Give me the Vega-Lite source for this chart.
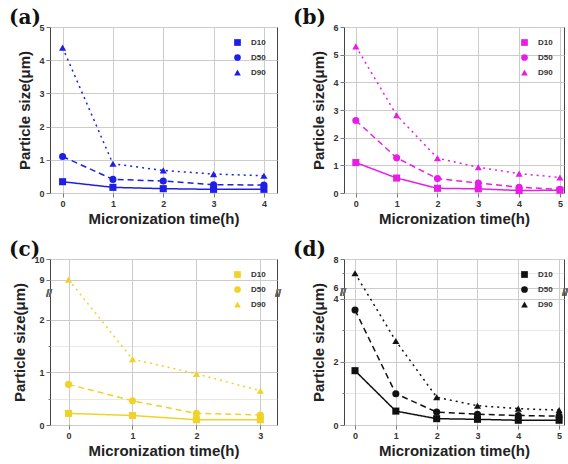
{
  "$schema": "https://vega.github.io/schema/vega-lite/v6.json",
  "padding": {"left": 8, "top": 7, "right": 0, "bottom": 0},
  "background": "white",
  "datasets": {
    "a": [
      {"time": 0, "series": "D10", "size": 0.34}, {"time": 1, "series": "D10", "size": 0.17}, {"time": 2, "series": "D10", "size": 0.13}, {"time": 3, "series": "D10", "size": 0.11}, {"time": 4, "series": "D10", "size": 0.11},
      {"time": 0, "series": "D50", "size": 1.1}, {"time": 1, "series": "D50", "size": 0.41}, {"time": 2, "series": "D50", "size": 0.36}, {"time": 3, "series": "D50", "size": 0.25}, {"time": 4, "series": "D50", "size": 0.24},
      {"time": 0, "series": "D90", "size": 4.38}, {"time": 1, "series": "D90", "size": 0.88}, {"time": 2, "series": "D90", "size": 0.68}, {"time": 3, "series": "D90", "size": 0.57}, {"time": 4, "series": "D90", "size": 0.52}
    ],
    "b": [
      {"time": 0, "series": "D10", "size": 1.1}, {"time": 1, "series": "D10", "size": 0.54}, {"time": 2, "series": "D10", "size": 0.17}, {"time": 3, "series": "D10", "size": 0.15}, {"time": 4, "series": "D10", "size": 0.09}, {"time": 5, "series": "D10", "size": 0.1},
      {"time": 0, "series": "D50", "size": 2.62}, {"time": 1, "series": "D50", "size": 1.27}, {"time": 2, "series": "D50", "size": 0.52}, {"time": 3, "series": "D50", "size": 0.36}, {"time": 4, "series": "D50", "size": 0.21}, {"time": 5, "series": "D50", "size": 0.13},
      {"time": 0, "series": "D90", "size": 5.3}, {"time": 1, "series": "D90", "size": 2.81}, {"time": 2, "series": "D90", "size": 1.26}, {"time": 3, "series": "D90", "size": 0.93}, {"time": 4, "series": "D90", "size": 0.7}, {"time": 5, "series": "D90", "size": 0.56}
    ],
    "c": [
      {"time": 0, "series": "D10", "size": 0.22}, {"time": 1, "series": "D10", "size": 0.18}, {"time": 2, "series": "D10", "size": 0.1}, {"time": 3, "series": "D10", "size": 0.1},
      {"time": 0, "series": "D50", "size": 0.77}, {"time": 1, "series": "D50", "size": 0.46}, {"time": 2, "series": "D50", "size": 0.22}, {"time": 3, "series": "D50", "size": 0.19},
      {"time": 0, "series": "D90", "size": 9.0}, {"time": 1, "series": "D90", "size": 1.25}, {"time": 2, "series": "D90", "size": 0.97}, {"time": 3, "series": "D90", "size": 0.65}
    ],
    "d": [
      {"time": 0, "series": "D10", "size": 1.72}, {"time": 1, "series": "D10", "size": 0.44}, {"time": 2, "series": "D10", "size": 0.2}, {"time": 3, "series": "D10", "size": 0.18}, {"time": 4, "series": "D10", "size": 0.15}, {"time": 5, "series": "D10", "size": 0.15},
      {"time": 0, "series": "D50", "size": 3.64}, {"time": 1, "series": "D50", "size": 0.99}, {"time": 2, "series": "D50", "size": 0.41}, {"time": 3, "series": "D50", "size": 0.34}, {"time": 4, "series": "D50", "size": 0.3}, {"time": 5, "series": "D50", "size": 0.28},
      {"time": 0, "series": "D90", "size": 7.0}, {"time": 1, "series": "D90", "size": 2.66}, {"time": 2, "series": "D90", "size": 0.88}, {"time": 3, "series": "D90", "size": 0.61}, {"time": 4, "series": "D90", "size": 0.52}, {"time": 5, "series": "D90", "size": 0.47}
    ]
  },
  "columns": 2,
  "spacing": {"column": 67, "row": 66},
  "bounds": "flush",
  "resolve": {"scale": {"shape": "independent", "strokeDash": "independent"}, "legend": {"shape": "independent", "strokeDash": "independent"}},
  "concat": [
    {
      "width": 227, "height": 166,
      "title": {"text": "(a)", "dx": -41},
      "data": {"name": "a"},
      "encoding": {
        "x": {"field": "time", "type": "quantitative", "title": "Micronization time(h)",
          "scale": {"domain": [-0.25, 4.26], "nice": false, "zero": false},
          "axis": {"values": [0, 0.5, 1, 1.5, 2, 2.5, 3, 3.5, 4], "format": "d", "labelExpr": "datum.value % 1 === 0 ? datum.label : ''",
            "gridOpacity": {"condition": {"test": "datum.value % 1 === 0", "value": 1}, "value": 0.45},
            "tickSize": {"condition": {"test": "datum.value % 1 === 0", "value": 4}, "value": 2}}},
        "y": {"field": "size", "type": "quantitative", "title": "Particle size(μm)",
          "scale": {"domain": [0, 5], "nice": false, "zero": false},
          "axis": {"values": [0, 0.5, 1, 1.5, 2, 2.5, 3, 3.5, 4, 4.5, 5], "format": "d", "labelExpr": "datum.value % 1 === 0 ? datum.label : ''",
            "gridOpacity": {"condition": {"test": "datum.value % 1 === 0", "value": 1}, "value": 0.45},
            "tickSize": {"condition": {"test": "datum.value % 1 === 0", "value": 4}, "value": 2}}}
      },
      "layer": [
        {"mark": {"type": "line", "color": "#1e1ee6", "strokeWidth": 1.5},
         "encoding": {"strokeDash": {"field": "series", "type": "nominal", "scale": {"range": [[1, 0], [6, 4], [2, 4]]}, "legend": null}}},
        {"mark": {"type": "point", "filled": true, "size": 50, "opacity": 1, "color": "#1e1ee6"},
         "encoding": {"shape": {"field": "series", "type": "nominal", "scale": {"domain": ["D10", "D50", "D90"], "range": ["square", "circle", "triangle-up"]},
           "legend": {"title": null, "symbolSize": 45}}}}
      ]
    },
    {
      "width": 220, "height": 166,
      "title": {"text": "(b)", "dx": -51},
      "data": {"name": "b"},
      "encoding": {
        "x": {"field": "time", "type": "quantitative", "title": "Micronization time(h)",
          "scale": {"domain": [-0.29, 5.1], "nice": false, "zero": false},
          "axis": {"values": [0, 0.5, 1, 1.5, 2, 2.5, 3, 3.5, 4, 4.5, 5], "format": "d", "labelExpr": "datum.value % 1 === 0 ? datum.label : ''",
            "gridOpacity": {"condition": {"test": "datum.value % 1 === 0", "value": 1}, "value": 0.45},
            "tickSize": {"condition": {"test": "datum.value % 1 === 0", "value": 4}, "value": 2}}},
        "y": {"field": "size", "type": "quantitative", "title": "Particle size(μm)",
          "scale": {"domain": [0, 6], "nice": false, "zero": false},
          "axis": {"values": [0, 0.5, 1, 1.5, 2, 2.5, 3, 3.5, 4, 4.5, 5, 5.5, 6], "format": "d", "labelExpr": "datum.value % 1 === 0 ? datum.label : ''",
            "gridOpacity": {"condition": {"test": "datum.value % 1 === 0", "value": 1}, "value": 0.45},
            "tickSize": {"condition": {"test": "datum.value % 1 === 0", "value": 4}, "value": 2}}}
      },
      "layer": [
        {"mark": {"type": "line", "color": "#e61ee6", "strokeWidth": 1.5},
         "encoding": {"strokeDash": {"field": "series", "type": "nominal", "scale": {"range": [[1, 0], [6, 4], [2, 4]]}, "legend": null}}},
        {"mark": {"type": "point", "filled": true, "size": 50, "opacity": 1, "color": "#e61ee6"},
         "encoding": {"shape": {"field": "series", "type": "nominal", "scale": {"domain": ["D10", "D50", "D90"], "range": ["square", "circle", "triangle-up"]},
           "legend": {"title": null, "symbolSize": 45}}}}
      ]
    },
    {
      "width": 227, "height": 166,
      "title": {"text": "(c)", "dx": -41},
      "data": {"name": "c"},
      "encoding": {
        "x": {"field": "time", "type": "quantitative", "title": "Micronization time(h)",
          "scale": {"domain": [-0.29, 3.26], "nice": false, "zero": false},
          "axis": {"values": [0, 0.5, 1, 1.5, 2, 2.5, 3], "format": "d", "labelExpr": "datum.value % 1 === 0 ? datum.label : ''",
            "gridOpacity": {"condition": {"test": "datum.value % 1 === 0", "value": 1}, "value": 0.45},
            "tickSize": {"condition": {"test": "datum.value % 1 === 0", "value": 4}, "value": 2}}},
        "y": {"field": "size", "type": "quantitative", "title": "Particle size(μm)",
          "scale": {"domain": [0, 2.49, 8.32, 10], "range": [166, 34.7, 34.7, 0], "nice": false, "zero": false},
          "axis": {"values": [0, 0.5, 1, 1.5, 2, 9, 10], "format": "d", "labelExpr": "datum.value % 1 === 0 ? datum.label : ''",
            "gridOpacity": {"condition": {"test": "datum.value % 1 === 0", "value": 1}, "value": 0.45},
            "tickSize": {"condition": {"test": "datum.value % 1 === 0", "value": 4}, "value": 2}}}
      },
      "layer": [
        {"mark": {"type": "line", "color": "#f0d228", "strokeWidth": 1.5},
         "encoding": {"strokeDash": {"field": "series", "type": "nominal", "scale": {"range": [[1, 0], [6, 4], [2, 4]]}, "legend": null}}},
        {"mark": {"type": "point", "filled": true, "size": 50, "opacity": 1, "color": "#f0d228"},
         "encoding": {"shape": {"field": "series", "type": "nominal", "scale": {"domain": ["D10", "D50", "D90"], "range": ["square", "circle", "triangle-up"]},
           "legend": {"title": null, "symbolSize": 45}}}},
        {"mark": {"type": "text", "text": "//", "fontSize": 10, "color": "#666", "dx": -1},
         "encoding": {"x": {"datum": -0.29}, "y": {"datum": 5}}},
        {"mark": {"type": "text", "text": "//", "fontSize": 10, "color": "#666", "dx": 1},
         "encoding": {"x": {"datum": 3.26}, "y": {"datum": 5}}}
      ]
    },
    {
      "width": 220, "height": 166,
      "title": {"text": "(d)", "dx": -51},
      "data": {"name": "d"},
      "encoding": {
        "x": {"field": "time", "type": "quantitative", "title": "Micronization time(h)",
          "scale": {"domain": [-0.27, 5.12], "nice": false, "zero": false},
          "axis": {"values": [0, 0.5, 1, 1.5, 2, 2.5, 3, 3.5, 4, 4.5, 5], "format": "d", "labelExpr": "datum.value % 1 === 0 ? datum.label : ''",
            "gridOpacity": {"condition": {"test": "datum.value % 1 === 0", "value": 1}, "value": 0.45},
            "tickSize": {"condition": {"test": "datum.value % 1 === 0", "value": 4}, "value": 2}}},
        "y": {"field": "size", "type": "quantitative", "title": "Particle size(μm)",
          "scale": {"domain": [0, 4.17, 5.6, 8], "range": [166, 34.3, 34.3, 0], "nice": false, "zero": false},
          "axis": {"values": [0, 1, 2, 3, 4, 6, 7, 8], "format": "d", "labelExpr": "datum.value % 2 === 0 ? datum.label : ''",
            "gridOpacity": {"condition": {"test": "datum.value % 2 === 0", "value": 1}, "value": 0.45},
            "tickSize": {"condition": {"test": "datum.value % 2 === 0", "value": 4}, "value": 2}}}
      },
      "layer": [
        {"mark": {"type": "line", "color": "#111111", "strokeWidth": 1.5},
         "encoding": {"strokeDash": {"field": "series", "type": "nominal", "scale": {"range": [[1, 0], [6, 4], [2, 4]]}, "legend": null}}},
        {"mark": {"type": "point", "filled": true, "size": 50, "opacity": 1, "color": "#111111"},
         "encoding": {"shape": {"field": "series", "type": "nominal", "scale": {"domain": ["D10", "D50", "D90"], "range": ["square", "circle", "triangle-up"]},
           "legend": {"title": null, "symbolSize": 45}}}},
        {"mark": {"type": "text", "text": "//", "fontSize": 10, "color": "#666", "dx": -1},
         "encoding": {"x": {"datum": -0.27}, "y": {"datum": 4.9}}},
        {"mark": {"type": "text", "text": "//", "fontSize": 10, "color": "#666", "dx": 1},
         "encoding": {"x": {"datum": 5.12}, "y": {"datum": 4.9}}}
      ]
    }
  ],
  "config": {
    "font": "Liberation Sans",
    "view": {"stroke": "#444444", "strokeWidth": 1},
    "axis": {
      "labelFont": "Liberation Sans", "labelFontWeight": "bold", "labelFontSize": 9, "labelColor": "#333333", "labelPadding": 2,
      "titleFont": "Liberation Sans", "titleFontWeight": "bold", "titleFontSize": 15, "titleColor": "#222222",
      "domain": false, "tickColor": "#777777", "grid": true, "gridColor": "#cccccc", "gridWidth": 1, "labelFlush": false, "labelOverlap": false
    },
    "axisX": {"titlePadding": 3},
    "axisY": {"titlePadding": 6},
    "title": {"font": "DejaVu Serif", "fontSize": 20, "fontWeight": "bold", "anchor": "start", "frame": "group", "color": "#111111", "offset": -5},
    "legend": {
      "orient": "top-right", "offset": 11, "labelOffset": 9,
      "labelFont": "Liberation Sans", "labelFontSize": 8, "labelFontWeight": "bold", "labelColor": "#333333",
      "rowPadding": 2, "padding": 0
    }
  }
}
